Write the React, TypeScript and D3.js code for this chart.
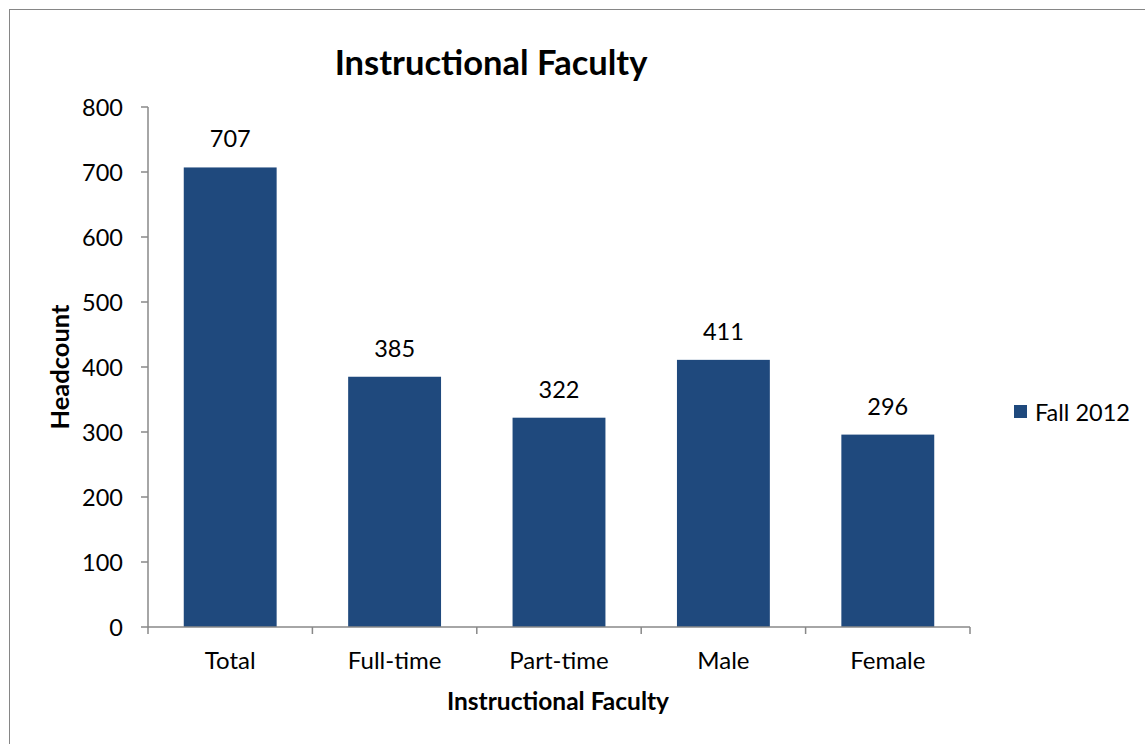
import React from "react";
import * as d3 from "d3";

const categories = ["Total", "Full-time", "Part-time", "Male", "Female"];
const values = [707, 385, 322, 411, 296];
const yTicks = [0, 100, 200, 300, 400, 500, 600, 700, 800];
const seriesName = "Fall 2012";
const chartTitle = "Instructional Faculty";
const xTitle = "Instructional Faculty";
const yTitle = "Headcount";

const W = 1145, H = 744;
const left = 148, right = 970, top = 107, bottom = 627;
const font = "Lato, 'Open Sans', sans-serif";
const barColor = "#1F497D";
const axisColor = "#888888";

export default function App() {
  const x = d3.scaleBand<string>().domain(categories).range([left, right]).paddingInner(0.435).paddingOuter(0.2175);
  const xb = d3.scaleBand<string>().domain(categories).range([left, right]);
  const y = d3.scaleLinear().domain([0, 800]).range([bottom, top]);
  return (
    <svg width={W} height={H} style={{ position: "absolute", left: 0, top: 0 }}>
      <rect x={9.5} y={9.5} width={W + 20} height={H + 20} fill="white" stroke="#868686" strokeWidth={1} />
      <text x={491} y={75} textAnchor="middle" fontFamily={font} fontWeight="bold" fontSize={34.5} fill="#000">{chartTitle}</text>
      {/* y axis */}
      <line x1={left} x2={left} y1={top} y2={bottom} stroke={axisColor} strokeWidth={1.5} />
      {yTicks.map(t => (
        <g key={t}>
          <line x1={left - 7} x2={left} y1={y(t)} y2={y(t)} stroke={axisColor} strokeWidth={1.5} />
          <text x={123} y={y(t) + 8.5} textAnchor="end" fontFamily={font} fontSize={23.5} fill="#000">{t}</text>
        </g>
      ))}
      {/* bars */}
      {categories.map((c, i) => (
        <g key={c}>
          <rect x={x(c)} y={y(values[i])} width={x.bandwidth()} height={bottom - y(values[i])} fill={barColor} />
          <text x={(x(c) as number) + x.bandwidth() / 2} y={y(values[i]) - 20} textAnchor="middle" fontFamily={font} fontSize={23.5} fill="#000">{values[i]}</text>
        </g>
      ))}
      {/* x axis */}
      <line x1={left} x2={right} y1={bottom} y2={bottom} stroke={axisColor} strokeWidth={1.5} />
      {categories.map(c => (
        <line key={"t" + c} x1={xb(c)} x2={xb(c)} y1={bottom} y2={bottom + 7} stroke={axisColor} strokeWidth={1.5} />
      ))}
      <line x1={right} x2={right} y1={bottom} y2={bottom + 7} stroke={axisColor} strokeWidth={1.5} />
      {categories.map(c => (
        <text key={"l" + c} x={(xb(c) as number) + xb.bandwidth() / 2} y={669} textAnchor="middle" fontFamily={font} fontSize={24} fill="#000">{c}</text>
      ))}
      <text x={558} y={710} textAnchor="middle" fontFamily={font} fontWeight="bold" fontSize={24.5} fill="#000">{xTitle}</text>
      <text transform={`translate(69,367) rotate(-90)`} textAnchor="middle" fontFamily={font} fontWeight="bold" fontSize={25.5} fill="#000">{yTitle}</text>
      {/* legend */}
      <rect x={1014} y={405} width={13} height={13} fill={barColor} />
      <text x={1035} y={421} fontFamily={font} fontSize={23.5} fill="#000">{seriesName}</text>
    </svg>
  );
}
